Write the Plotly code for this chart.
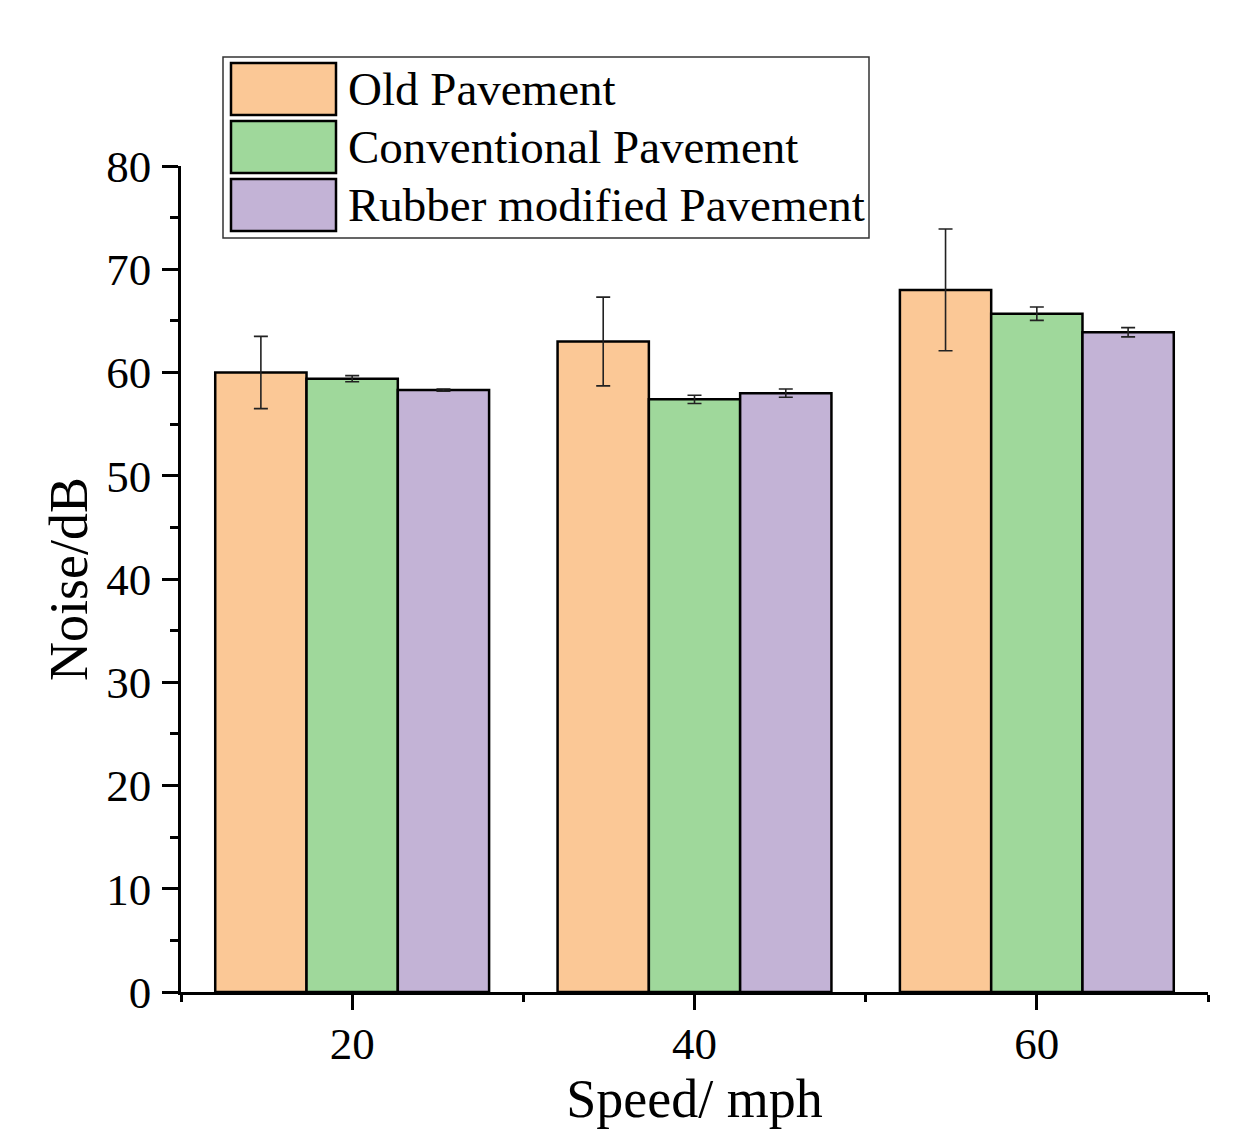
import plotly.graph_objects as go

speeds = [20, 40, 60]
series_names = ["Old Pavement", "Conventional Pavement", "Rubber modified Pavement"]
old_vals = [60.0, 63.0, 68.0]
old_err = [3.5, 4.3, 5.9]
conv_vals = [59.4, 57.4, 65.7]
conv_err = [0.3, 0.4, 0.65]
rub_vals = [58.3, 58.0, 63.9]
rub_err = [0.1, 0.4, 0.45]
colors = ["#FBC896", "#9FD89B", "#C3B3D6"]

FONT = "Liberation Serif, Times New Roman, serif"

fig = go.Figure()
for name, vals, errs, col in zip(series_names, [old_vals, conv_vals, rub_vals],
                                 [old_err, conv_err, rub_err], colors):
    fig.add_trace(go.Bar(
        x=speeds, y=vals, name=name,
        marker=dict(color=col, line=dict(color="black", width=2.5)),
        error_y=dict(type="data", array=errs, visible=True, color="#222222",
                     thickness=1.6, width=7),
        showlegend=False,
    ))

W, H = 1259, 1137
L, R, T, B = 181, 51, 166, 145
pw, ph = W - L - R, H - T - B

def px(x):
    return (x - L) / pw

def py(y):
    return (H - B - y) / ph

shapes = []
annotations = []
# legend box
shapes.append(dict(type="rect", xref="paper", yref="paper",
                   x0=px(223), x1=px(869), y0=py(238), y1=py(57),
                   line=dict(color="#333333", width=1.5), fillcolor="white", layer="above"))
rows = [(63, 115), (121, 173), (179, 231)]
for (y0, y1), name, col in zip(rows, series_names, colors):
    shapes.append(dict(type="rect", xref="paper", yref="paper",
                       x0=px(231), x1=px(336), y0=py(y1), y1=py(y0),
                       line=dict(color="black", width=2.5), fillcolor=col, layer="above"))
    annotations.append(dict(xref="paper", yref="paper", x=px(346), y=py((y0 + y1) / 2),
                            text=name, showarrow=False, xanchor="left", yanchor="middle",
                            font=dict(family=FONT, size=47, color="black")))

fig.update_layout(
    width=W, height=H,
    margin=dict(l=L, r=R, t=T, b=B, pad=0),
    plot_bgcolor="white", paper_bgcolor="white",
    barmode="group", bargap=0.2, bargroupgap=0,
    font=dict(family=FONT, color="black"),
    shapes=shapes, annotations=annotations,
    xaxis=dict(
        range=[10, 70], tickmode="linear", tick0=0, dtick=20,
        ticks="outside", ticklen=15, tickwidth=2.5, tickcolor="black",
        showline=True, linewidth=2.5, linecolor="black",
        showgrid=False, zeroline=False,
        tickfont=dict(family=FONT, size=45, color="black"),
        ticklabelstandoff=-5,
        minor=dict(tick0=0, dtick=10, ticks="outside", ticklen=7, tickwidth=2.5,
                   tickcolor="black", showgrid=False),
        title=dict(text="Speed/ mph", font=dict(family=FONT, size=54, color="black"),
                   standoff=6),
    ),
    yaxis=dict(
        range=[0, 80], tickmode="linear", tick0=0, dtick=10,
        ticks="outside", ticklen=16, tickwidth=2.5, tickcolor="black",
        showline=True, linewidth=2.5, linecolor="black",
        showgrid=False, zeroline=False,
        tickfont=dict(family=FONT, size=45, color="black"),
        ticklabelstandoff=2,
        minor=dict(tick0=0, dtick=5, ticks="outside", ticklen=8, tickwidth=2.5,
                   tickcolor="black", showgrid=False),
        title=dict(text="Noise/dB", font=dict(family=FONT, size=54, color="black"),
                   standoff=2),
    ),
)

fig.write_html("out.html")
